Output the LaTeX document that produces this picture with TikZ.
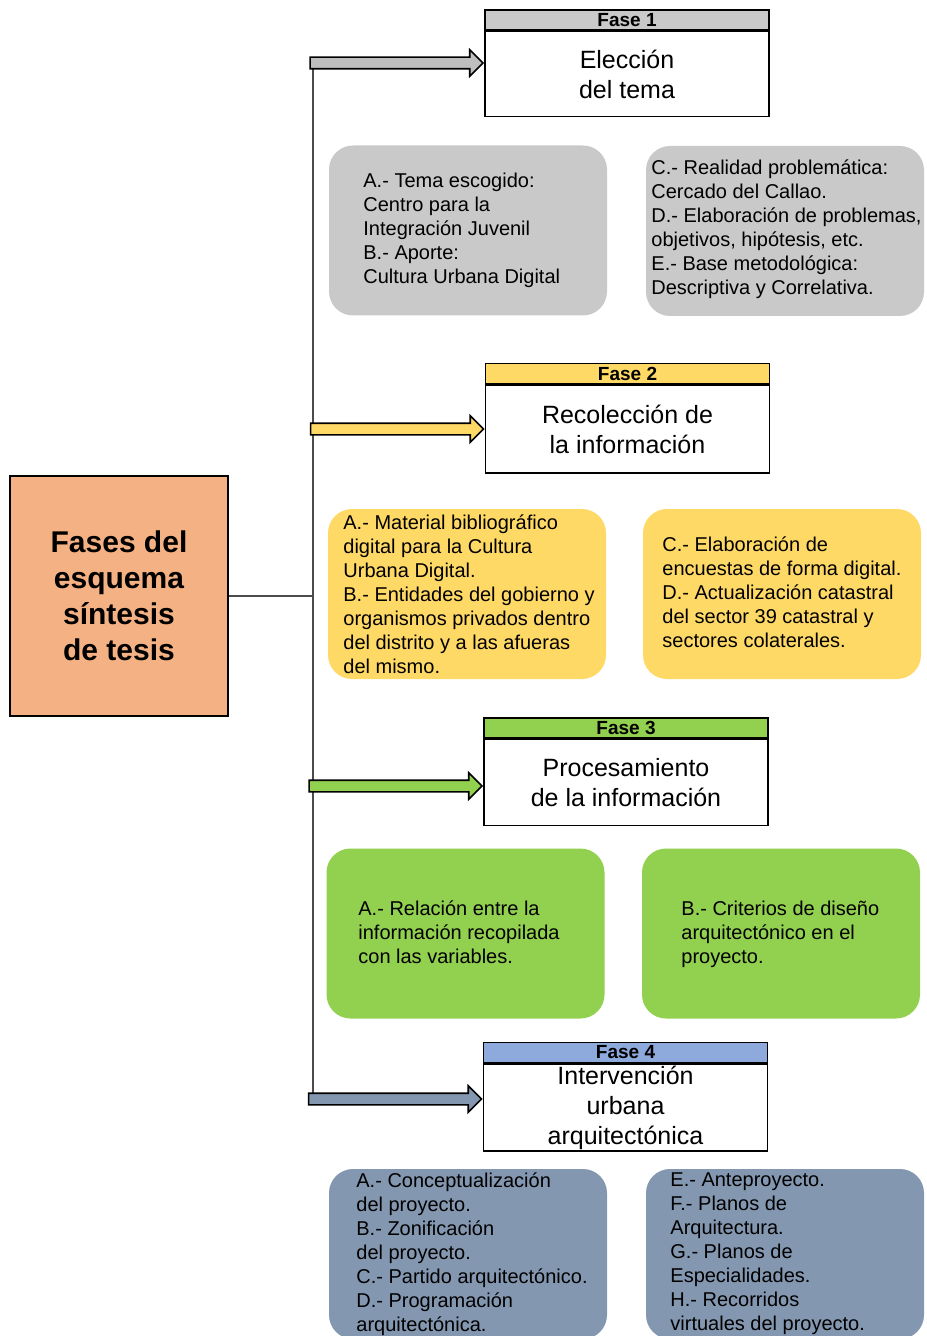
\documentclass[tikz,border=0pt]{standalone}
\usepackage{fontspec}
\setmainfont{Liberation Sans}
\usetikzlibrary{positioning,shapes.arrows}

\definecolor{gris}{HTML}{C9C9C9}
\definecolor{grisf}{HTML}{BFBFBF}
\definecolor{amarillo}{HTML}{FFD966}
\definecolor{verde}{HTML}{92D050}
\definecolor{azulh}{HTML}{8EA9DB}
\definecolor{azulc}{HTML}{8497B0}
\definecolor{naranja}{HTML}{F4B183}

\begin{document}
\begin{tikzpicture}[x=0.5pt,y=-0.5pt,
	cabeza/.style={draw, line width=0.8pt, minimum width=142pt, minimum height=10pt, inner sep=0pt, font=\fontsize{9.5}{10}\selectfont\bfseries},
	cuerpo/.style={draw, fill=white, line width=0.8pt, minimum width=142pt, inner sep=0pt, align=center, font=\fontsize{12.5}{15}\selectfont},
	caja/.style={rounded corners=12pt, minimum width=139pt, minimum height=85pt, inner sep=0pt},
	texto/.style={anchor=west, align=left, inner sep=0pt, font=\fontsize{10}{12}\selectfont},
	flecha/.style={single arrow, draw, line width=0.8pt, single arrow head extend=3.75pt, single arrow head indent=0pt, text height=5pt, text depth=0pt, minimum height=86.5pt, inner sep=0pt, anchor=tip}]
%		\draw[help lines] (0,0) grid (926,1336);
		\clip (0,0) rectangle (926,1336);

		% tema central
		\node[draw, fill=naranja, line width=0.8pt, minimum width=109pt, minimum height=120pt, align=center, font=\fontsize{15}{18}\selectfont\bfseries] (tesis) at (119,596) {Fases del\\esquema\\síntesis\\de tesis};

		% tronco
		\coordinate (t1) at (313,63);
		\coordinate (t2) at (313,429);
		\coordinate (t3) at (313,786);
		\coordinate (t4) at (313,1099);
		\draw[gray!60!black, line width=0.6pt] (t1) -- (t4);
		\draw[gray!60!black, line width=0.6pt] (tesis.east) -- (tesis.east -| t1);

		% Fase 1
		\node[cabeza, fill=gris] (h1) at (627,20) {Fase 1};
		\node[cuerpo, minimum height=42.5pt, below=0pt of h1] (f1) {Elección\\del tema};
		\node[flecha, fill=grisf] (a1) at (f1.west |- t1) {};
		\node[caja, fill=gris] (g1) at (468,230.5) {};
		\node[caja, fill=gris] (g2) at (785,231) {};
		\node[texto] (g1t) at (363,230.5) {A.- Tema escogido:\\Centro para la\\Integración Juvenil\\B.- Aporte:\\Cultura Urbana Digital};
		\node[texto] (g2t) at (651,229) {C.- Realidad problemática:\\Cercado del Callao.\\D.- Elaboración de problemas,\\objetivos, hipótesis, etc.\\E.- Base metodológica:\\Descriptiva y Correlativa.};

		% Fase 2
		\node[cabeza, fill=amarillo] (h2) at (627.5,373.5) {Fase 2};
		\node[cuerpo, minimum height=44pt, below=0pt of h2] (f2) {Recolección de\\la información};
		\node[flecha, fill=amarillo] (a2) at (f2.west |- t2) {};
		\node[caja, fill=amarillo] (y1) at (467,594) {};
		\node[caja, fill=amarillo] (y2) at (782,594) {};
		\node[texto] (y1t) at (343,594) {A.- Material bibliográfico\\digital para la Cultura\\Urbana Digital.\\B.- Entidades del gobierno y\\organismos privados dentro\\del distrito y a las afueras\\del mismo.};
		\node[texto] (y2t) at (662,592) {C.- Elaboración de\\encuestas de forma digital.\\D.- Actualización catastral\\del sector 39 catastral y\\sectores colaterales.};

		% Fase 3
		\node[cabeza, fill=verde] (h3) at (626,728) {Fase 3};
		\node[cuerpo, minimum height=43pt, below=0pt of h3] (f3) {Procesamiento\\de la información};
		\node[flecha, fill=verde] (a3) at (f3.west |- t3) {};
		\node[caja, fill=verde] (v1) at (465.5,933.5) {};
		\node[caja, fill=verde] (v2) at (781,933.5) {};
		\node[texto] (v1t) at (358,932) {A.- Relación entre la\\información recopilada\\con las variables.};
		\node[texto] (v2t) at (681,934) {B.- Criterios de diseño\\arquitectónico en el\\proyecto.};

		% Fase 4
		\node[cabeza, fill=azulh] (h4) at (625.5,1052.5) {Fase 4};
		\node[cuerpo, minimum height=43.5pt, below=0pt of h4] (f4) {Intervención\\urbana\\arquitectónica};
		\node[flecha, fill=azulc] (a4) at (f4.west |- t4) {};
		\node[caja, fill=azulc] (b1) at (468,1254) {};
		\node[caja, fill=azulc] (b2) at (785,1254) {};
		\node[texto] (b1t) at (356,1254) {A.- Conceptualización\\del proyecto.\\B.- Zonificación\\del proyecto.\\C.- Partido arquitectónico.\\D.- Programación\\arquitectónica.};
		\node[texto] (b2t) at (670,1254) {E.- Anteproyecto.\\F.- Planos de\\Arquitectura.\\G.- Planos de\\Especialidades.\\H.- Recorridos\\virtuales del proyecto.};
	\end{tikzpicture}
\end{document}
